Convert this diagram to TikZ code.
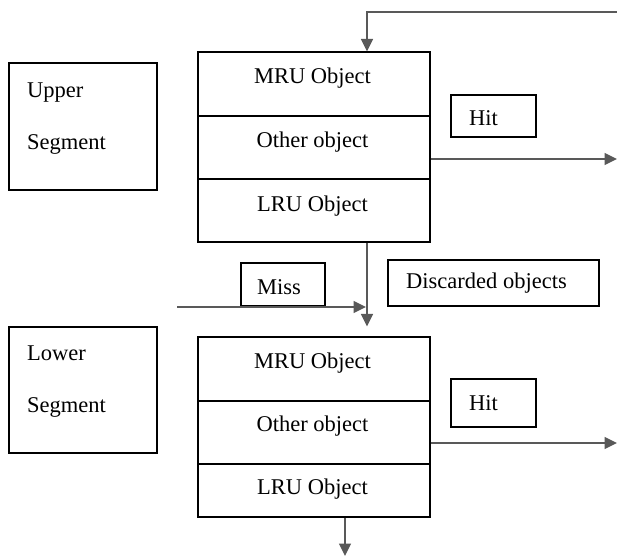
\documentclass[tikz,border=0pt]{standalone}
\usepackage{fontspec}
\setmainfont{Liberation Serif}
\usetikzlibrary{arrows.meta}
\begin{document}
\begin{tikzpicture}[x=1pt,y=-1pt,
  box/.style={draw=black,line width=1.3pt,inner sep=0pt,fill=white},
  txt/.style={inner sep=0pt,font=\fontsize{22.5}{27}\selectfont},
  conn/.style={draw=black!65,line width=1.6pt,-{Triangle[length=12.5pt,width=12pt]}}]
\useasboundingbox (0,0) rectangle (617,557);
% segment boxes
\node[box,minimum width=148pt,minimum height=127pt] (useg) at (83,126.5) {};
\node[box,minimum width=148pt,minimum height=126pt] (lseg) at (83,390) {};
\node[txt,anchor=base west] (useg1) at (27,97) {Upper};
\node[txt,anchor=base west] (useg2) at (27,149) {Segment};
\node[txt,anchor=base west] (lseg1) at (27,360) {Lower};
\node[txt,anchor=base west] (lseg2) at (27,412) {Segment};
% upper stack
\node[box,minimum width=232pt,minimum height=64pt] (umru) at (314,84) {};
\node[box,minimum width=232pt,minimum height=63pt] (uoth) at (314,147.5) {};
\node[box,minimum width=232pt,minimum height=63pt] (ulru) at (314,210.5) {};
\node[txt,anchor=base] (umrut) at (312.5,83) {MRU Object};
\node[txt,anchor=base] (uotht) at (312.5,147) {Other object};
\node[txt,anchor=base] (ulrut) at (312.5,211) {LRU Object};
% lower stack
\node[box,minimum width=232pt,minimum height=64pt] (lmru) at (314,369) {};
\node[box,minimum width=232pt,minimum height=63pt] (loth) at (314,432.5) {};
\node[box,minimum width=232pt,minimum height=53pt] (llru) at (314,490.5) {};
\node[txt,anchor=base] (lmrut) at (312.5,368) {MRU Object};
\node[txt,anchor=base] (lotht) at (312.5,431) {Other object};
\node[txt,anchor=base] (llrut) at (312.5,494) {LRU Object};
% label boxes
\node[box,minimum width=85pt,minimum height=42pt] (uhit) at (493.5,116) {};
\node[txt,anchor=base west] (uhitt) at (469,125) {Hit};
\node[box,minimum width=85pt,minimum height=48pt] (lhit) at (493.5,403) {};
\node[txt,anchor=base west] (lhitt) at (469,410) {Hit};
\node[box,minimum width=84pt,minimum height=43pt] (miss) at (283,284.5) {};
\node[txt,anchor=base west] (misst) at (257,294) {Miss};
\node[box,minimum width=211pt,minimum height=46pt] (disc) at (493.5,283) {};
\node[txt,anchor=base west] (disct) at (406,288) {Discarded objects};
% coordinates
\coordinate (topin) at (617,12);
\coordinate (dropx) at (367,0);
\coordinate (uhitout) at (617,159);
\coordinate (lhitout) at (617,443);
\coordinate (missin) at (177,307);
\coordinate (botout) at (345,556);
% connectors
\draw[conn] (topin) -| (dropx |- umru.north);
\draw[conn] (uoth.east |- uhitout) -- (uhitout);
\draw[conn] (dropx |- ulru.south) -- ([yshift=10pt]dropx |- lmru.north);
\draw[conn] (missin) -- ([xshift=-1pt]missin -| dropx);
\draw[conn] (loth.east |- lhitout) -- (lhitout);
\draw[conn] (botout |- llru.south) -- (botout);
\end{tikzpicture}
\end{document}
